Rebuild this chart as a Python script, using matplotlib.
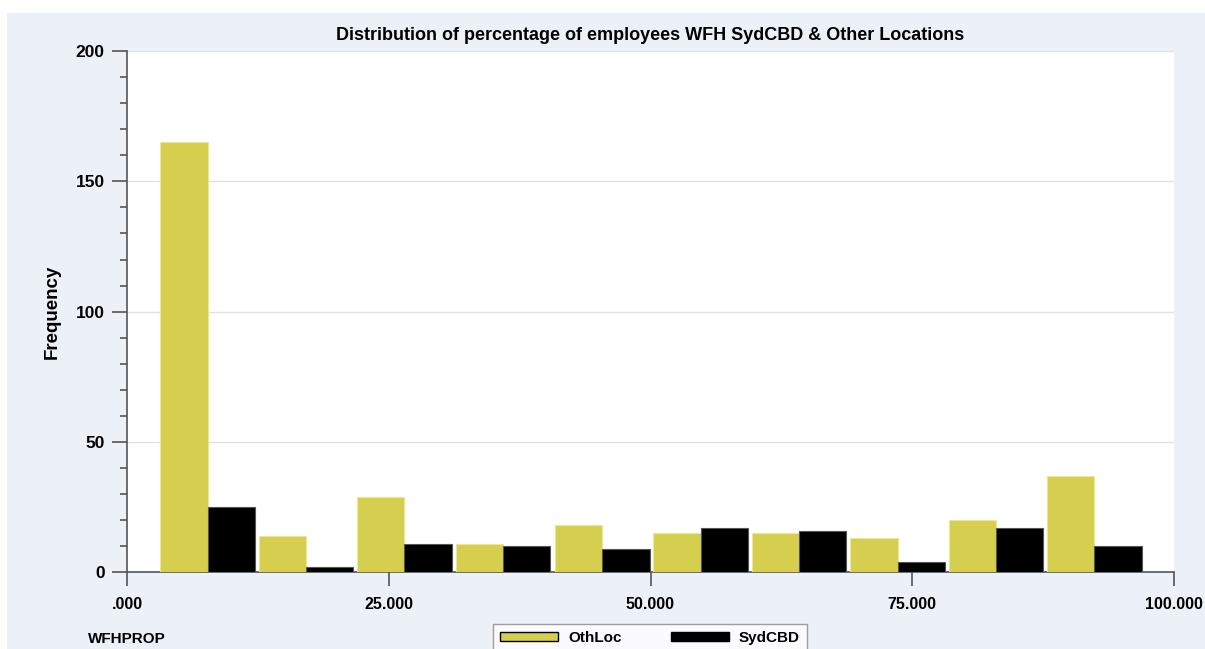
import matplotlib
matplotlib.use("Agg")
import matplotlib.pyplot as plt
import matplotlib.patches as mpatches
from matplotlib.ticker import MultipleLocator, FixedLocator

# bin centres (WFHPROP, %)
bin_centres = [7.7, 17.1, 26.5, 35.9, 45.4, 54.8, 64.2, 73.6, 83.0, 92.4]
othloc = [165, 14, 29, 11, 18, 15, 15, 13, 20, 37]
sydcbd = [25, 2, 11, 10, 9, 17, 16, 4, 17, 10]
x_ticks = [0, 25, 50, 75, 100]
x_ticklabels = [".000", "25.000", "50.000", "75.000", "100.000"]
y_ticks = [0, 50, 100, 150, 200]

YELLOW = "#d6ce4f"
BG = "#ecf0f7"
AXC = "#555555"

plt.rcParams["font.family"] = ["Liberation Sans", "DejaVu Sans"]
plt.rcParams["font.weight"] = "bold"

fig = plt.figure(figsize=(12.05, 6.49), dpi=100, facecolor="white")
fig.patches.append(mpatches.Rectangle((7 / 1205, 0), 1, (649 - 13) / 649,
                                      transform=fig.transFigure,
                                      facecolor=BG, edgecolor="none", zorder=-10))

ax = fig.add_axes([127 / 1205, (649 - 572.3) / 649, 1047 / 1205, 521.3 / 649])
ax.set_facecolor("white")

w = 4.52
ax.bar([c - w / 2 for c in bin_centres], othloc, width=w, color=YELLOW,
       edgecolor="#ece88f", linewidth=0.8, zorder=3)
ax.bar([c + w / 2 for c in bin_centres], sydcbd, width=w, color="black",
       edgecolor="#555555", linewidth=0.8, zorder=3)

ax.set_xlim(0, 100)
ax.set_ylim(0, 200)
ax.xaxis.set_major_locator(FixedLocator(x_ticks))
ax.set_xticklabels(x_ticklabels)
ax.yaxis.set_major_locator(FixedLocator(y_ticks))
ax.yaxis.set_minor_locator(MultipleLocator(10))

for s in ["top", "right"]:
    ax.spines[s].set_visible(False)
for s in ["left", "bottom"]:
    ax.spines[s].set_color(AXC)
    ax.spines[s].set_linewidth(1.2)

ax.tick_params(axis="y", which="major", length=11, width=1.2, color=AXC,
               labelsize=12.5, pad=5)
ax.tick_params(axis="y", which="minor", length=5, width=1.2, color=AXC)
ax.tick_params(axis="x", which="major", length=10, width=1.2, color=AXC,
               labelsize=11.5, pad=8)
for lab in ax.get_xticklabels() + ax.get_yticklabels():
    lab.set_fontweight("bold")

ax.grid(axis="y", color="#e2e2e2", linewidth=1, zorder=0)
ax.set_axisbelow(True)

ax.set_title("Distribution of percentage of employees WFH SydCBD & Other Locations",
             fontsize=13, fontweight="bold", pad=8)
fig.text(52 / 1205, 1 - 312 / 649, "Frequency", rotation=90, fontsize=13.5,
         fontweight="bold", ha="center", va="center")
fig.text(88 / 1205, 1 - 639 / 649, "WFHPROP", fontsize=11, fontweight="bold",
         ha="left", va="center")

handles = [mpatches.Patch(facecolor=YELLOW, edgecolor="black", linewidth=1, label="OthLoc"),
           mpatches.Patch(facecolor="black", edgecolor="black", label="SydCBD")]
leg = fig.legend(handles=handles, loc="upper center", ncol=2,
                 bbox_to_anchor=(650 / 1205, 1 - 624 / 649),
                 frameon=True, fancybox=False,
                 handlelength=3.8, handleheight=0.5, handletextpad=0.65,
                 columnspacing=3.2, borderpad=0.45, borderaxespad=0,
                 prop={"weight": "bold", "size": 11})
leg.get_frame().set_edgecolor("#888888")
leg.get_frame().set_linewidth(1)

fig.savefig("out.png", dpi=100, facecolor=fig.get_facecolor())
